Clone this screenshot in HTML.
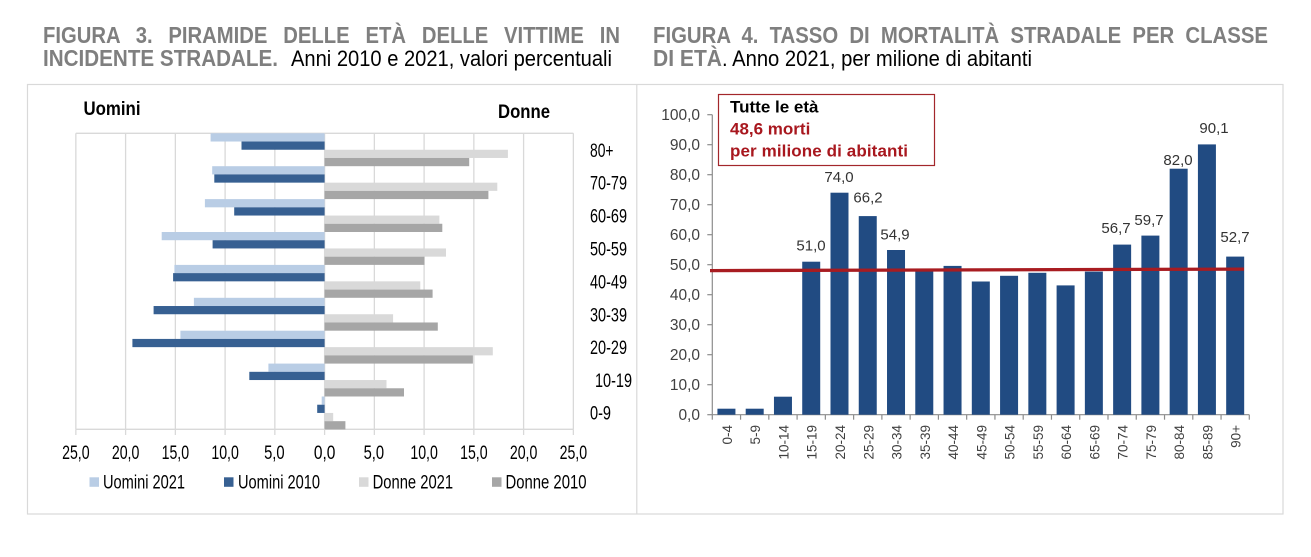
<!DOCTYPE html>
<html>
<head>
<meta charset="utf-8">
<style>
  html,body{margin:0;padding:0;background:#fff;}
  svg{display:block;}
  text{font-family:"Liberation Sans", Arial, sans-serif;}
</style>
</head>
<body>
<svg width="1311" height="557" viewBox="0 0 1311 557" xmlns="http://www.w3.org/2000/svg">
  <rect x="0" y="0" width="1311" height="557" fill="#fff"/>

  <!-- Titles -->
  <text x="43" y="43" font-size="23" font-weight="bold" fill="#7f7f7f" style="word-spacing:11.6px" textLength="577" lengthAdjust="spacingAndGlyphs">FIGURA 3. PIRAMIDE DELLE ETÀ DELLE VITTIME IN</text>
  <text x="43" y="66" font-size="23" font-weight="bold" fill="#7f7f7f" textLength="235" lengthAdjust="spacingAndGlyphs">INCIDENTE STRADALE.</text>
  <text x="291" y="66" font-size="22.5" fill="#000" textLength="321" lengthAdjust="spacingAndGlyphs">Anni 2010 e 2021, valori percentuali</text>

  <text x="653" y="43" font-size="23" font-weight="bold" fill="#7f7f7f" style="word-spacing:6.2px" textLength="615" lengthAdjust="spacingAndGlyphs">FIGURA 4. TASSO DI MORTALITÀ STRADALE PER CLASSE</text>
  <text x="653" y="66" font-size="23" font-weight="bold" fill="#7f7f7f" textLength="69" lengthAdjust="spacingAndGlyphs">DI ETÀ</text>
  <text x="722" y="66" font-size="22.5" fill="#000" textLength="310" lengthAdjust="spacingAndGlyphs">. Anno 2021, per milione di abitanti</text>

  <!-- Frames -->
  <rect x="27.5" y="84.5" width="1255.5" height="429.5" fill="none" stroke="#d9d9d9" stroke-width="1.2"/>
  <line x1="636.8" y1="84.5" x2="636.8" y2="514" stroke="#d9d9d9" stroke-width="1.2"/>

  <!-- ===== LEFT CHART ===== -->
  <text x="83.5" y="115" font-size="19" font-weight="bold" fill="#000" textLength="57" lengthAdjust="spacingAndGlyphs">Uomini</text>
  <text x="498" y="118" font-size="19" font-weight="bold" fill="#000" textLength="52" lengthAdjust="spacingAndGlyphs">Donne</text>

  <!-- grid -->
  <g stroke="#d9d9d9" stroke-width="1.3">
    <line x1="75.85" y1="133.3" x2="75.85" y2="429.3"/>
    <line x1="125.6" y1="133.3" x2="125.6" y2="429.3"/>
    <line x1="175.35" y1="133.3" x2="175.35" y2="429.3"/>
    <line x1="225.1" y1="133.3" x2="225.1" y2="429.3"/>
    <line x1="274.85" y1="133.3" x2="274.85" y2="429.3"/>
    <line x1="324.6" y1="133.3" x2="324.6" y2="429.3"/>
    <line x1="374.35" y1="133.3" x2="374.35" y2="429.3"/>
    <line x1="424.1" y1="133.3" x2="424.1" y2="429.3"/>
    <line x1="473.85" y1="133.3" x2="473.85" y2="429.3"/>
    <line x1="523.6" y1="133.3" x2="523.6" y2="429.3"/>
    <line x1="573.35" y1="133.3" x2="573.35" y2="429.3"/>
    <line x1="75.85" y1="133.3" x2="573.35" y2="133.3"/>
    <line x1="75.85" y1="429.3" x2="573.35" y2="429.3"/>
    <!-- ticks -->
    <line x1="75.85" y1="429.3" x2="75.85" y2="435"/>
    <line x1="125.6" y1="429.3" x2="125.6" y2="435"/>
    <line x1="175.35" y1="429.3" x2="175.35" y2="435"/>
    <line x1="225.1" y1="429.3" x2="225.1" y2="435"/>
    <line x1="274.85" y1="429.3" x2="274.85" y2="435"/>
    <line x1="324.6" y1="429.3" x2="324.6" y2="435"/>
    <line x1="374.35" y1="429.3" x2="374.35" y2="435"/>
    <line x1="424.1" y1="429.3" x2="424.1" y2="435"/>
    <line x1="473.85" y1="429.3" x2="473.85" y2="435"/>
    <line x1="523.6" y1="429.3" x2="523.6" y2="435"/>
    <line x1="573.35" y1="429.3" x2="573.35" y2="435"/>
  </g>

  <!-- bars: Uomini 2021 -->
  <g fill="#b9cde5">
    <rect x="210.6" y="133.3" width="114.0" height="8.22"/>
    <rect x="212.2" y="166.2" width="112.4" height="8.22"/>
    <rect x="204.9" y="199.1" width="119.7" height="8.22"/>
    <rect x="161.7" y="232.0" width="162.9" height="8.22"/>
    <rect x="174.4" y="264.9" width="150.2" height="8.22"/>
    <rect x="193.9" y="297.8" width="130.7" height="8.22"/>
    <rect x="180.4" y="330.7" width="144.2" height="8.22"/>
    <rect x="268.4" y="363.6" width="56.2" height="8.22"/>
    <rect x="321.7" y="396.5" width="2.9" height="8.22"/>
  </g>
  <!-- Uomini 2010 -->
  <g fill="#376092">
    <rect x="241.5" y="141.52" width="83.1" height="8.22"/>
    <rect x="214.3" y="174.42" width="110.3" height="8.22"/>
    <rect x="234.2" y="207.32" width="90.4" height="8.22"/>
    <rect x="212.6" y="240.22" width="112.0" height="8.22"/>
    <rect x="173.1" y="273.12" width="151.5" height="8.22"/>
    <rect x="153.6" y="306.02" width="171.0" height="8.22"/>
    <rect x="132.4" y="338.92" width="192.2" height="8.22"/>
    <rect x="249.3" y="371.82" width="75.3" height="8.22"/>
    <rect x="317.2" y="404.72" width="7.4" height="8.22"/>
  </g>
  <!-- Donne 2021 -->
  <g fill="#d9d9d9">
    <rect x="324.6" y="149.75" width="183.3" height="8.22"/>
    <rect x="324.6" y="182.65" width="172.7" height="8.22"/>
    <rect x="324.6" y="215.55" width="114.8" height="8.22"/>
    <rect x="324.6" y="248.45" width="121.4" height="8.22"/>
    <rect x="324.6" y="281.35" width="95.7" height="8.22"/>
    <rect x="324.6" y="314.25" width="68.5" height="8.22"/>
    <rect x="324.6" y="347.15" width="168.2" height="8.22"/>
    <rect x="324.6" y="380.05" width="61.9" height="8.22"/>
    <rect x="324.6" y="412.95" width="8.6" height="8.22"/>
  </g>
  <!-- Donne 2010 -->
  <g fill="#a6a6a6">
    <rect x="324.6" y="157.97" width="144.6" height="8.22"/>
    <rect x="324.6" y="190.87" width="163.8" height="8.22"/>
    <rect x="324.6" y="223.77" width="117.7" height="8.22"/>
    <rect x="324.6" y="256.67" width="99.8" height="8.22"/>
    <rect x="324.6" y="289.57" width="108.0" height="8.22"/>
    <rect x="324.6" y="322.47" width="113.2" height="8.22"/>
    <rect x="324.6" y="355.37" width="148.3" height="8.22"/>
    <rect x="324.6" y="388.27" width="79.4" height="8.22"/>
    <rect x="324.6" y="421.17" width="20.8" height="8.22"/>
  </g>

  <!-- category labels -->
  <g font-size="19" fill="#000">
    <text x="590" y="156.75" textLength="23.5" lengthAdjust="spacingAndGlyphs">80+</text>
    <text x="590" y="189.65" textLength="37" lengthAdjust="spacingAndGlyphs">70-79</text>
    <text x="590" y="222.55" textLength="37" lengthAdjust="spacingAndGlyphs">60-69</text>
    <text x="590" y="255.45" textLength="37" lengthAdjust="spacingAndGlyphs">50-59</text>
    <text x="590" y="288.35" textLength="37" lengthAdjust="spacingAndGlyphs">40-49</text>
    <text x="590" y="321.25" textLength="37" lengthAdjust="spacingAndGlyphs">30-39</text>
    <text x="590" y="354.15" textLength="37" lengthAdjust="spacingAndGlyphs">20-29</text>
    <text x="595" y="387.05" textLength="37" lengthAdjust="spacingAndGlyphs">10-19</text>
    <text x="590" y="419.5" textLength="21" lengthAdjust="spacingAndGlyphs">0-9</text>
  </g>

  <!-- x tick labels -->
  <g font-size="19" fill="#000">
    <text x="62.1" y="459" textLength="27.5" lengthAdjust="spacingAndGlyphs">25,0</text>
    <text x="111.85" y="459" textLength="27.5" lengthAdjust="spacingAndGlyphs">20,0</text>
    <text x="161.6" y="459" textLength="27.5" lengthAdjust="spacingAndGlyphs">15,0</text>
    <text x="211.35" y="459" textLength="27.5" lengthAdjust="spacingAndGlyphs">10,0</text>
    <text x="264.1" y="459" textLength="20.5" lengthAdjust="spacingAndGlyphs">5,0</text>
    <text x="313.85" y="459" textLength="21.5" lengthAdjust="spacingAndGlyphs">0,0</text>
    <text x="363.6" y="459" textLength="20.5" lengthAdjust="spacingAndGlyphs">5,0</text>
    <text x="410.35" y="459" textLength="27.5" lengthAdjust="spacingAndGlyphs">10,0</text>
    <text x="460.1" y="459" textLength="27.5" lengthAdjust="spacingAndGlyphs">15,0</text>
    <text x="509.85" y="459" textLength="27.5" lengthAdjust="spacingAndGlyphs">20,0</text>
    <text x="559.6" y="459" textLength="27.5" lengthAdjust="spacingAndGlyphs">25,0</text>
  </g>

  <!-- legend -->
  <rect x="89.5" y="477.3" width="9.5" height="9.5" fill="#b9cde5"/>
  <text x="103" y="488.3" font-size="19" fill="#000" textLength="82" lengthAdjust="spacingAndGlyphs">Uomini 2021</text>
  <rect x="224" y="477.3" width="9.5" height="9.5" fill="#376092"/>
  <text x="238" y="488.3" font-size="19" fill="#000" textLength="82" lengthAdjust="spacingAndGlyphs">Uomini 2010</text>
  <rect x="359" y="477.3" width="9.5" height="9.5" fill="#d9d9d9"/>
  <text x="372.6" y="488.3" font-size="19" fill="#000" textLength="80.5" lengthAdjust="spacingAndGlyphs">Donne 2021</text>
  <rect x="492" y="477.3" width="9.5" height="9.5" fill="#a6a6a6"/>
  <text x="505.5" y="488.3" font-size="19" fill="#000" textLength="81" lengthAdjust="spacingAndGlyphs">Donne 2010</text>

  <!-- ===== RIGHT CHART ===== -->
  <!-- axes -->
  <g stroke="#8c8c8c" stroke-width="1.2">
    <line x1="712.3" y1="114.7" x2="712.3" y2="414.7"/>
    <line x1="712.3" y1="414.7" x2="1249.3" y2="414.7"/>
    <!-- y ticks -->
    <line x1="707.3" y1="114.7" x2="712.3" y2="114.7"/>
    <line x1="707.3" y1="144.7" x2="712.3" y2="144.7"/>
    <line x1="707.3" y1="174.7" x2="712.3" y2="174.7"/>
    <line x1="707.3" y1="204.7" x2="712.3" y2="204.7"/>
    <line x1="707.3" y1="234.7" x2="712.3" y2="234.7"/>
    <line x1="707.3" y1="264.7" x2="712.3" y2="264.7"/>
    <line x1="707.3" y1="294.7" x2="712.3" y2="294.7"/>
    <line x1="707.3" y1="324.7" x2="712.3" y2="324.7"/>
    <line x1="707.3" y1="354.7" x2="712.3" y2="354.7"/>
    <line x1="707.3" y1="384.7" x2="712.3" y2="384.7"/>
    <line x1="707.3" y1="414.7" x2="712.3" y2="414.7"/>
    <!-- x ticks -->
    <line x1="712.3" y1="414.7" x2="712.3" y2="419.7"/>
    <line x1="740.56" y1="414.7" x2="740.56" y2="419.7"/>
    <line x1="768.83" y1="414.7" x2="768.83" y2="419.7"/>
    <line x1="797.09" y1="414.7" x2="797.09" y2="419.7"/>
    <line x1="825.35" y1="414.7" x2="825.35" y2="419.7"/>
    <line x1="853.62" y1="414.7" x2="853.62" y2="419.7"/>
    <line x1="881.88" y1="414.7" x2="881.88" y2="419.7"/>
    <line x1="910.14" y1="414.7" x2="910.14" y2="419.7"/>
    <line x1="938.41" y1="414.7" x2="938.41" y2="419.7"/>
    <line x1="966.67" y1="414.7" x2="966.67" y2="419.7"/>
    <line x1="994.94" y1="414.7" x2="994.94" y2="419.7"/>
    <line x1="1023.2" y1="414.7" x2="1023.2" y2="419.7"/>
    <line x1="1051.47" y1="414.7" x2="1051.47" y2="419.7"/>
    <line x1="1079.73" y1="414.7" x2="1079.73" y2="419.7"/>
    <line x1="1108.0" y1="414.7" x2="1108.0" y2="419.7"/>
    <line x1="1136.26" y1="414.7" x2="1136.26" y2="419.7"/>
    <line x1="1164.53" y1="414.7" x2="1164.53" y2="419.7"/>
    <line x1="1192.79" y1="414.7" x2="1192.79" y2="419.7"/>
    <line x1="1221.05" y1="414.7" x2="1221.05" y2="419.7"/>
    <line x1="1249.3" y1="414.7" x2="1249.3" y2="419.7"/>
  </g>

  <!-- y labels -->
  <g font-size="15.5" fill="#404040" text-anchor="end">
    <text x="700" y="120.2">100,0</text>
    <text x="700" y="150.2">90,0</text>
    <text x="700" y="180.2">80,0</text>
    <text x="700" y="210.2">70,0</text>
    <text x="700" y="240.2">60,0</text>
    <text x="700" y="270.2">50,0</text>
    <text x="700" y="300.2">40,0</text>
    <text x="700" y="330.2">30,0</text>
    <text x="700" y="360.2">20,0</text>
    <text x="700" y="390.2">10,0</text>
    <text x="700" y="420.2">0,0</text>
  </g>

  <!-- bars -->
  <g fill="#214b82">
    <rect x="717.43" y="408.7" width="18" height="6"/>
    <rect x="745.70" y="408.7" width="18" height="6"/>
    <rect x="773.96" y="396.7" width="18" height="18"/>
    <rect x="802.22" y="261.7" width="18" height="153"/>
    <rect x="830.49" y="192.7" width="18" height="222"/>
    <rect x="858.75" y="216.1" width="18" height="198.6"/>
    <rect x="887.02" y="250.0" width="18" height="164.7"/>
    <rect x="915.28" y="270.1" width="18" height="144.6"/>
    <rect x="943.54" y="265.9" width="18" height="148.8"/>
    <rect x="971.81" y="281.5" width="18" height="133.2"/>
    <rect x="1000.07" y="275.8" width="18" height="138.9"/>
    <rect x="1028.34" y="272.8" width="18" height="141.9"/>
    <rect x="1056.60" y="285.4" width="18" height="129.3"/>
    <rect x="1084.86" y="271.6" width="18" height="143.1"/>
    <rect x="1113.13" y="244.6" width="18" height="170.1"/>
    <rect x="1141.39" y="235.6" width="18" height="179.1"/>
    <rect x="1169.66" y="168.7" width="18" height="246"/>
    <rect x="1197.92" y="144.4" width="18" height="270.3"/>
    <rect x="1226.18" y="256.6" width="18" height="158.1"/>
  </g>

  <!-- average line -->
  <line x1="710" y1="270.6" x2="1244" y2="269.1" stroke="#a81c21" stroke-width="3.3"/>

  <!-- data labels -->
  <g font-size="15" fill="#333" text-anchor="middle">
    <text x="811" y="250.7">51,0</text>
    <text x="839" y="182">74,0</text>
    <text x="868" y="202.5">66,2</text>
    <text x="895" y="239.5">54,9</text>
    <text x="1116" y="233">56,7</text>
    <text x="1149" y="225">59,7</text>
    <text x="1178" y="165">82,0</text>
    <text x="1214" y="133">90,1</text>
    <text x="1235" y="242">52,7</text>
  </g>

  <!-- x labels (rotated) -->
  <g font-size="13.5" fill="#404040" text-anchor="end">
    <text transform="translate(731.9,425) rotate(-90)">0-4</text>
    <text transform="translate(760.2,425) rotate(-90)">5-9</text>
    <text transform="translate(788.5,425) rotate(-90)">10-14</text>
    <text transform="translate(816.7,425) rotate(-90)">15-19</text>
    <text transform="translate(845.0,425) rotate(-90)">20-24</text>
    <text transform="translate(873.3,425) rotate(-90)">25-29</text>
    <text transform="translate(901.5,425) rotate(-90)">30-34</text>
    <text transform="translate(929.8,425) rotate(-90)">35-39</text>
    <text transform="translate(958.0,425) rotate(-90)">40-44</text>
    <text transform="translate(986.3,425) rotate(-90)">45-49</text>
    <text transform="translate(1014.6,425) rotate(-90)">50-54</text>
    <text transform="translate(1042.8,425) rotate(-90)">55-59</text>
    <text transform="translate(1071.1,425) rotate(-90)">60-64</text>
    <text transform="translate(1099.4,425) rotate(-90)">65-69</text>
    <text transform="translate(1127.6,425) rotate(-90)">70-74</text>
    <text transform="translate(1155.9,425) rotate(-90)">75-79</text>
    <text transform="translate(1184.2,425) rotate(-90)">80-84</text>
    <text transform="translate(1212.4,425) rotate(-90)">85-89</text>
    <text transform="translate(1240.7,425) rotate(-90)">90+</text>
  </g>

  <!-- annotation box -->
  <rect x="718.5" y="94.5" width="216" height="71" fill="#fff" stroke="#a3272b" stroke-width="1.2"/>
  <text x="730" y="112.3" font-size="17" font-weight="bold" fill="#000">Tutte le età</text>
  <text x="730" y="134.5" font-size="17" font-weight="bold" fill="#a8171e">48,6 morti</text>
  <text x="730" y="156.3" font-size="17" font-weight="bold" fill="#a8171e" textLength="178" lengthAdjust="spacing">per milione di abitanti</text>
</svg>
</body>
</html>
